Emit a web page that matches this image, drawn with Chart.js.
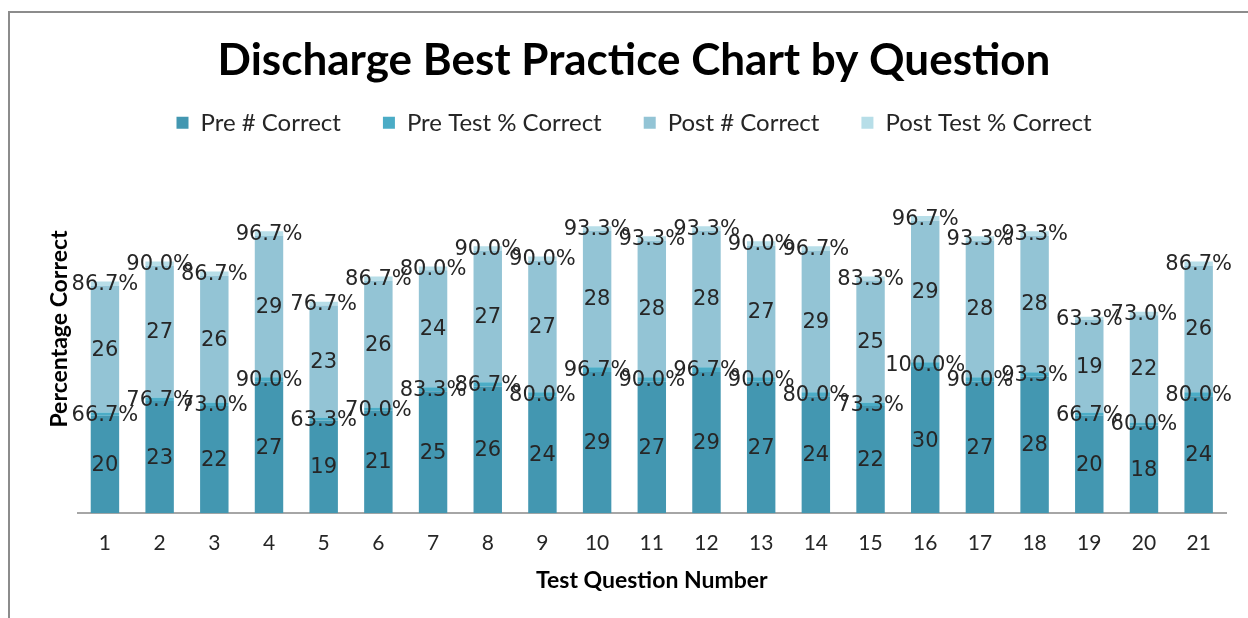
<!DOCTYPE html>
<html>
<head>
<meta charset="utf-8">
<script src="https://cdn.jsdelivr.net/npm/chart.js@4/dist/chart.umd.min.js"></script>
<style>
  body { margin: 0; background: #fff; overflow: hidden; }
  #frame { position: absolute; left: 8px; top: 11px; width: 1400px; height: 800px; border: 2px solid #8c8c8c; }
  #wrap { position: absolute; left: 0; top: 0; width: 1248px; height: 618px; }
</style>
</head>
<body>
<div id="frame"></div>
<div id="wrap"><canvas id="chart" width="1248" height="618"></canvas></div>
<script>
// datos
var questions = ['1','2','3','4','5','6','7','8','9','10','11','12','13','14','15','16','17','18','19','20','21'];
var preCorrect = [20, 23, 22, 27, 19, 21, 25, 26, 24, 29, 27, 29, 27, 24, 22, 30, 27, 28, 20, 18, 24];
var prePct = [66.7, 76.7, 73.0, 90.0, 63.3, 70.0, 83.3, 86.7, 80.0, 96.7, 90.0, 96.7, 90.0, 80.0, 73.3, 100.0, 90.0, 93.3, 66.7, 60.0, 80.0];
var postCorrect = [26, 27, 26, 29, 23, 26, 24, 27, 27, 28, 28, 28, 27, 29, 25, 29, 28, 28, 19, 22, 26];
var postPct = [86.7, 90.0, 86.7, 96.7, 76.7, 86.7, 80.0, 90.0, 90.0, 93.3, 93.3, 93.3, 90.0, 96.7, 83.3, 96.7, 93.3, 93.3, 63.3, 73.0, 86.7];

// etiquetas sobre cada segmento
var barLabels = {
  id: 'barLabels',
  afterDatasetsDraw: function(chart) {
    var ctx = chart.ctx;
    ctx.save();
    ctx.font = '21px "DejaVu Sans", sans-serif';
    ctx.fillStyle = '#262626';
    ctx.textAlign = 'center';
    ctx.textBaseline = 'middle';
    chart.data.datasets.forEach(function(ds, i) {
      var meta = chart.getDatasetMeta(i);
      meta.data.forEach(function(bar, j) {
        var p = bar.getCenterPoint();
        var txt = ds.isPct ? ds.raw[j].toFixed(1) + '%' : String(ds.data[j]);
        ctx.fillText(txt, p.x, p.y + 1);
      });
    });
    ctx.restore();
  }
};

var chart = new Chart(document.getElementById('chart'), {
  type: 'bar',
  data: {
    labels: questions,
    datasets: [{
      label: 'Pre # Correct',
      data: preCorrect,
      backgroundColor: '#4397b1'
    }, {
      label: 'Pre Test % Correct',
      data: prePct.map(function(v) { return v / 100; }),
      raw: prePct,
      isPct: true,
      backgroundColor: '#4bacc6'
    }, {
      label: 'Post # Correct',
      data: postCorrect,
      backgroundColor: '#93c4d5'
    }, {
      label: 'Post Test % Correct',
      data: postPct.map(function(v) { return v / 100; }),
      raw: postPct,
      isPct: true,
      backgroundColor: '#b7dee8'
    }]
  },
  options: {
    responsive: false,
    animation: false,
    barPercentage: 0.52,
    categoryPercentage: 1,
    layout: { padding: { left: 42, right: 22, top: 30, bottom: 24 } },
    plugins: {
      title: {
        display: true,
        text: 'Discharge Best Practice Chart by Question',
        color: '#000',
        font: { family: 'Lato', size: 44, weight: 'bold' },
        padding: { top: 4, bottom: -18 }
      },
      legend: {
        display: true,
        labels: {
          color: '#262626',
          font: { family: 'Lato', size: 24 },
          boxWidth: 12,
          boxHeight: 12,
          padding: 42
        }
      },
      tooltip: { enabled: false }
    },
    scales: {
      x: {
        stacked: true,
        grid: { display: false, drawTicks: false },
        border: { display: true, color: '#a6a6a6', width: 2 },
        ticks: { color: '#262626', font: { family: 'Lato', size: 21 }, padding: 17 },
        title: {
          display: true,
          text: 'Test Question Number',
          color: '#000',
          font: { family: 'Lato', size: 23, weight: 'bold' },
          padding: { top: -6, bottom: 0 }
        }
      },
      y: {
        stacked: true,
        min: 0,
        max: 75.6,
        grid: { display: false, drawTicks: false },
        border: { display: false },
        ticks: { display: false },
        title: {
          display: true,
          text: 'Percentage Correct',
          color: '#000',
          font: { family: 'Lato', size: 23, weight: 'bold' },
          padding: { top: 4, bottom: 4 }
        }
      }
    }
  },
  plugins: [barLabels]
});
</script>
</body>
</html>
